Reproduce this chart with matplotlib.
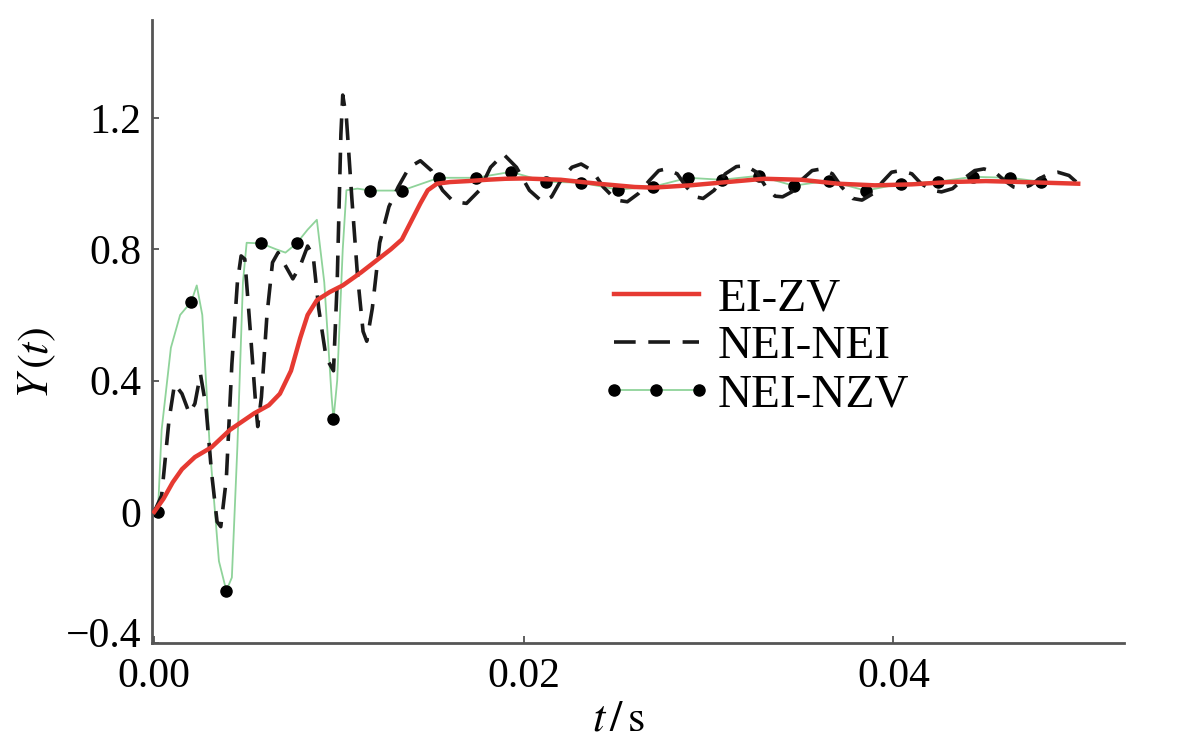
import numpy as np
import matplotlib
matplotlib.use('Agg')
import matplotlib.pyplot as plt
import matplotlib.transforms as mtransforms

plt.rcParams['font.family'] = ['Liberation Serif', 'DejaVu Serif']
plt.rcParams['mathtext.fontset'] = 'stix'

# EI-ZV (red)
t_zv = [0, 0.0005, 0.001, 0.0015, 0.0022, 0.0031, 0.0041, 0.0054, 0.0062, 0.0068,
        0.0074, 0.0079, 0.0083, 0.0088, 0.0095, 0.0102, 0.0112, 0.012, 0.0128, 0.0134,
        0.0139, 0.0144, 0.0148, 0.0153, 0.016, 0.017, 0.018, 0.019, 0.02, 0.022,
        0.024, 0.026, 0.027, 0.029, 0.031, 0.033, 0.035, 0.037, 0.039, 0.041,
        0.043, 0.045, 0.047, 0.05]
y_zv = [0, 0.04, 0.09, 0.13, 0.167, 0.197, 0.25, 0.30, 0.325, 0.36,
        0.43, 0.53, 0.60, 0.645, 0.67, 0.69, 0.73, 0.765, 0.80, 0.83,
        0.885, 0.94, 0.98, 1.0, 1.005, 1.008, 1.012, 1.015, 1.016, 1.012,
        1.0, 0.99, 0.988, 0.995, 1.005, 1.015, 1.012, 1.0, 0.995, 0.998,
        1.005, 1.008, 1.005, 1.0]

# NEI-NEI (dashed)
t_nei = [0, 0.0004, 0.0008, 0.0011, 0.0015, 0.0019, 0.0022, 0.0025, 0.0028, 0.0031,
         0.0034, 0.0036, 0.0039, 0.0042, 0.0045, 0.0047, 0.0049, 0.0052, 0.0055, 0.0056,
         0.0058, 0.0061, 0.0064, 0.0067, 0.0071, 0.0075, 0.0079, 0.0083, 0.0086, 0.0089,
         0.0093, 0.0097, 0.0099, 0.0101, 0.0102, 0.0104, 0.0107, 0.011, 0.0113, 0.0115,
         0.0118, 0.0122, 0.0127, 0.0132, 0.0138, 0.0144, 0.015, 0.0156, 0.0162, 0.0169,
         0.0176, 0.0182, 0.0189, 0.0196, 0.0203, 0.021, 0.0215, 0.022, 0.0226, 0.0231,
         0.0237, 0.0243, 0.025, 0.0256, 0.0262, 0.0268, 0.0273, 0.0277, 0.0283, 0.0288,
         0.0293, 0.0297, 0.0303, 0.0309, 0.0315, 0.032, 0.0326, 0.0331, 0.0336, 0.034,
         0.0345, 0.035, 0.0356, 0.0361, 0.0367, 0.0372, 0.0378, 0.0383, 0.0389, 0.0394,
         0.0399, 0.0404, 0.041, 0.0415, 0.0421, 0.0426, 0.0432, 0.0438, 0.0444, 0.0449,
         0.0455, 0.046, 0.0465, 0.0469, 0.0474, 0.0479, 0.0484, 0.0489, 0.0495, 0.05]
y_nei = [0, 0.05, 0.28, 0.39, 0.36, 0.30, 0.33, 0.42, 0.32, 0.12,
         -0.03, -0.045, 0.10, 0.45, 0.70, 0.78, 0.77, 0.55, 0.32, 0.26,
         0.35, 0.60, 0.76, 0.79, 0.75, 0.71, 0.75, 0.81, 0.78, 0.62,
         0.47, 0.43, 0.70, 1.15, 1.27, 1.20, 0.95, 0.72, 0.55, 0.52,
         0.62, 0.82, 0.93, 0.99, 1.05, 1.07, 1.04, 0.98, 0.945, 0.94,
         0.98, 1.05, 1.09, 1.05, 0.98, 0.945, 0.96, 1.01, 1.05, 1.06,
         1.04, 0.99, 0.95, 0.945, 0.97, 1.01, 1.04, 1.045, 1.03, 0.99,
         0.96, 0.955, 0.98, 1.03, 1.052, 1.055, 1.035, 0.99, 0.962, 0.96,
         0.975, 1.01, 1.04, 1.045, 1.03, 0.99, 0.955, 0.95, 0.97, 1.005,
         1.035, 1.04, 1.03, 1.0, 0.98, 0.975, 0.985, 1.015, 1.04, 1.045,
         1.035, 1.01, 0.99, 0.985, 0.995, 1.015, 1.03, 1.035, 1.025, 1.0]

# NEI-NZV (green line, black dots at marked samples)
t_nzv = [0, 0.0002, 0.0004, 0.0009, 0.0014, 0.002, 0.0023, 0.0026, 0.003, 0.0035,
         0.0039, 0.0042, 0.0045, 0.0048, 0.005, 0.0058, 0.0066, 0.0071, 0.0077, 0.0083,
         0.0088, 0.0092, 0.0096, 0.0097, 0.0099, 0.0102, 0.0104, 0.011, 0.0117, 0.0134,
         0.0154, 0.0174, 0.0193, 0.0212, 0.0231, 0.0251, 0.027, 0.0289, 0.0307, 0.0327,
         0.0346, 0.0365, 0.0385, 0.0404, 0.0424, 0.0443, 0.0463, 0.048, 0.05]
y_nzv = [0, 0.0, 0.25, 0.50, 0.60, 0.64, 0.69, 0.60, 0.20, -0.15,
         -0.24, -0.20, 0.20, 0.70, 0.82, 0.818, 0.80, 0.79, 0.818, 0.86,
         0.89, 0.70, 0.35, 0.282, 0.40, 0.80, 0.98, 0.985, 0.979, 0.979,
         1.018, 1.018, 1.036, 1.006, 1.003, 0.982, 0.991, 1.018, 1.012, 1.024,
         0.994, 1.009, 0.979, 1.0, 1.006, 1.021, 1.018, 1.006, 1.0]
nzv_marks = [1, 5, 10, 15, 18, 23] + list(range(28, 48))

y_ticks = [-0.4, 0, 0.4, 0.8, 1.2]
y_ticklabels = ['\u22120.4', '0', '0.4', '0.8', '1.2']
x_ticks = [0.0, 0.02, 0.04]
x_ticklabels = ['0.00', '0.02', '0.04']

fig = plt.figure(figsize=(12, 7.54), dpi=100)
ax = fig.add_axes([0.127, 0.147, 0.81, 0.827])

ax.plot(t_nzv, y_nzv, color='#8fd39a', lw=1.3, marker='o', ms=8,
        mfc='black', mec='black', markevery=nzv_marks, label='NEI-NZV', zorder=2)
ax.plot(t_nei, y_nei, color='#1a1a1a', lw=2.6, ls=(0, (6, 3.5)),
        label='NEI-NEI', zorder=3)
ax.plot(t_zv, y_zv, color='#e63a32', lw=3.2, label='EI-ZV', zorder=4)

ax.set_xlim(-0.0001, 0.0525)
ax.set_ylim(-0.395, 1.5)
ax.set_xticks(x_ticks)
ax.set_xticklabels(x_ticklabels)
ax.set_yticks(y_ticks)
ax.set_yticklabels(y_ticklabels)
ax.tick_params(direction='in', length=5, width=1.2, labelsize=30, color='#444444')
ax.tick_params(axis='y', pad=8)
ax.tick_params(axis='x', pad=10)
for lab in ax.get_yticklabels():
    lab.set_verticalalignment('center_baseline')
# lift the bottom label a little so it clears the 0.00 label, as in the reference
low = ax.get_yticklabels()[0]
low.set_transform(low.get_transform() +
                  mtransforms.ScaledTranslation(0, 8 / 72, fig.dpi_scale_trans))

for s in ['top', 'right']:
    ax.spines[s].set_visible(False)
for s in ['left', 'bottom']:
    ax.spines[s].set_color('#555555')
    ax.spines[s].set_linewidth(2)

ax.set_ylabel(r'$Y\,(t)$', fontsize=32)
ax.yaxis.set_label_coords(-0.097, 0.45)
ax.set_xlabel(r'$t\,/\,\mathrm{s}$', fontsize=32)
ax.xaxis.set_label_coords(0.48, -0.09)

h, l = ax.get_legend_handles_labels()
order = [2, 1, 0]
ax.legend([h[i] for i in order], [l[i] for i in order], loc='center left',
          bbox_to_anchor=(0.46, 0.475), frameon=False, fontsize=34,
          handlelength=2.4, handletextpad=0.1, labelspacing=0.1,
          borderpad=0, borderaxespad=0, numpoints=3)

fig.savefig('out.png', dpi=100)
